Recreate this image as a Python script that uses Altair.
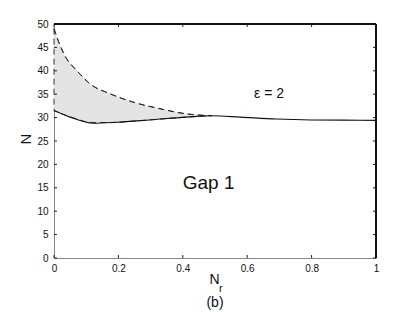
import altair as alt
import pandas as pd
import numpy as np

# Upper (dashed) boundary of the shaded gap region
x_upper = [0.0, 0.019, 0.039, 0.07, 0.112, 0.174, 0.246, 0.329, 0.411, 0.49]
n_upper = [49.0, 45.4, 42.6, 40.1, 37.2, 35.1, 33.3, 31.9, 30.8, 30.4]

# Lower (solid) curve
x_lower = [0.0, 0.05, 0.122, 0.194, 0.297, 0.411, 0.49, 0.58, 0.69, 0.8, 0.9, 1.0]
n_lower = [31.5, 30.1, 28.8, 29.0, 29.5, 30.1, 30.4, 30.1, 29.7, 29.5, 29.45, 29.4]

x_ticks = [0, 0.2, 0.4, 0.6, 0.8, 1]
y_ticks = [0, 5, 10, 15, 20, 25, 30, 35, 40, 45, 50]

W, H = 322, 234
FONT = "Liberation Sans"

lower_at_upper = np.interp(x_upper, x_lower, n_lower)
area_df = pd.DataFrame({"x": x_upper, "top": n_upper, "bot": lower_at_upper})
lower_df = pd.DataFrame({"x": x_lower, "n": n_lower})
upper_df = pd.DataFrame({"x": x_upper, "n": n_upper})

xs = alt.Scale(domain=[0, 1], nice=False)
ys = alt.Scale(domain=[0, 50], nice=False)

xaxis = alt.Axis(values=x_ticks, tickSize=0, labelPadding=5, grid=False,
                 domainColor="#888", labelFont=FONT, labelFontSize=10,
                 labelColor="#111", title=None, labelFlush=False,
                 labelOverlap=False, labelExpr="toString(datum.value)")
yaxis = alt.Axis(values=y_ticks, tickSize=0, labelPadding=6, grid=False,
                 domainColor="#888", labelFont=FONT, labelFontSize=10,
                 labelColor="#111", title=None, labelOverlap=False,
                 labelFlush=False, labelExpr="toString(datum.value)")


def X(f):
    return alt.X(f, scale=xs, axis=xaxis)


def Y(f):
    return alt.Y(f, scale=ys, axis=yaxis)


area = alt.Chart(area_df).mark_area(
    color="#e4e4e4", stroke="#222", strokeDash=[6, 4], strokeWidth=0.9,
    interpolate="monotone"
).encode(x=X("x:Q"), y=Y("top:Q"), y2="bot:Q")

upper = alt.Chart(upper_df).mark_line(color="#222", strokeDash=[6, 4], strokeWidth=0.9,
                                      interpolate="monotone").encode(
    x=X("x:Q"), y=Y("n:Q"))

lower = alt.Chart(lower_df).mark_line(color="#111", strokeWidth=1.1,
                                      interpolate="monotone").encode(
    x=X("x:Q"), y=Y("n:Q"))

xt = pd.DataFrame({"v": x_ticks})
yt = pd.DataFrame({"v": y_ticks})
tick_bottom = alt.Chart(xt).mark_rule(color="#222").encode(
    x=X("v:Q"), y=alt.value(H), y2=alt.value(H - 3))
tick_top = alt.Chart(xt).mark_rule(color="#222").encode(
    x=X("v:Q"), y=alt.value(0), y2=alt.value(3))
tick_left = alt.Chart(yt).mark_rule(color="#222").encode(
    y=Y("v:Q"), x=alt.value(0), x2=alt.value(3))
tick_right = alt.Chart(yt).mark_rule(color="#222").encode(
    y=Y("v:Q"), x=alt.value(W - 3), x2=alt.value(W))

frame_top = alt.Chart(xt).mark_rule(color="#111").encode(
    x=alt.value(0), x2=alt.value(W), y=alt.value(0))
frame_right = alt.Chart(xt).mark_rule(color="#111").encode(
    x=alt.value(W), y=alt.value(0), y2=alt.value(H))

labels = pd.DataFrame({
    "x": [0.668, 0.48],
    "n": [35.0, 16.0],
    "t": ["ε = 2", "Gap 1"],
    "s": [14, 19],
})
ann = alt.Chart(labels).mark_text(font=FONT, color="#111", baseline="middle").encode(
    x=X("x:Q"), y=Y("n:Q"), text="t:N",
    size=alt.Size("s:Q", scale=None, legend=None),
)

title_df = pd.DataFrame({"t": ["N"]})
ylab = alt.Chart(title_df).mark_text(font=FONT, fontSize=15, angle=270, color="#111",
                                     baseline="middle").encode(
    x=alt.value(-28), y=alt.value(H / 2 - 2), text="t:N")
xlab = alt.Chart(title_df).mark_text(font=FONT, fontSize=14, color="#111",
                                     baseline="alphabetic", align="center").encode(
    x=alt.value(160.5), y=alt.value(260), text="t:N")
sub_df = pd.DataFrame({"t": ["r"]})
xsub = alt.Chart(sub_df).mark_text(font=FONT, fontSize=11, color="#111",
                                   baseline="alphabetic", align="left").encode(
    x=alt.value(165), y=alt.value(268), text="t:N")
b_df = pd.DataFrame({"t": ["(b)"]})
blab = alt.Chart(b_df).mark_text(font=FONT, fontSize=14, color="#111",
                                 baseline="alphabetic", align="center").encode(
    x=alt.value(161), y=alt.value(282.5), text="t:N")

chart = alt.layer(
    area, upper, lower, tick_bottom, tick_top, tick_left, tick_right,
    frame_top, frame_right, ann, ylab, xlab, xsub, blab
).properties(
    width=W, height=H,
    autosize=alt.AutoSizeParams(type="none"),
    padding={"left": 46, "top": 16, "right": 30, "bottom": 54},
).configure_view(stroke=None).configure(background="white")

chart.save("out.html", embed_options={"renderer": "svg", "actions": False})
